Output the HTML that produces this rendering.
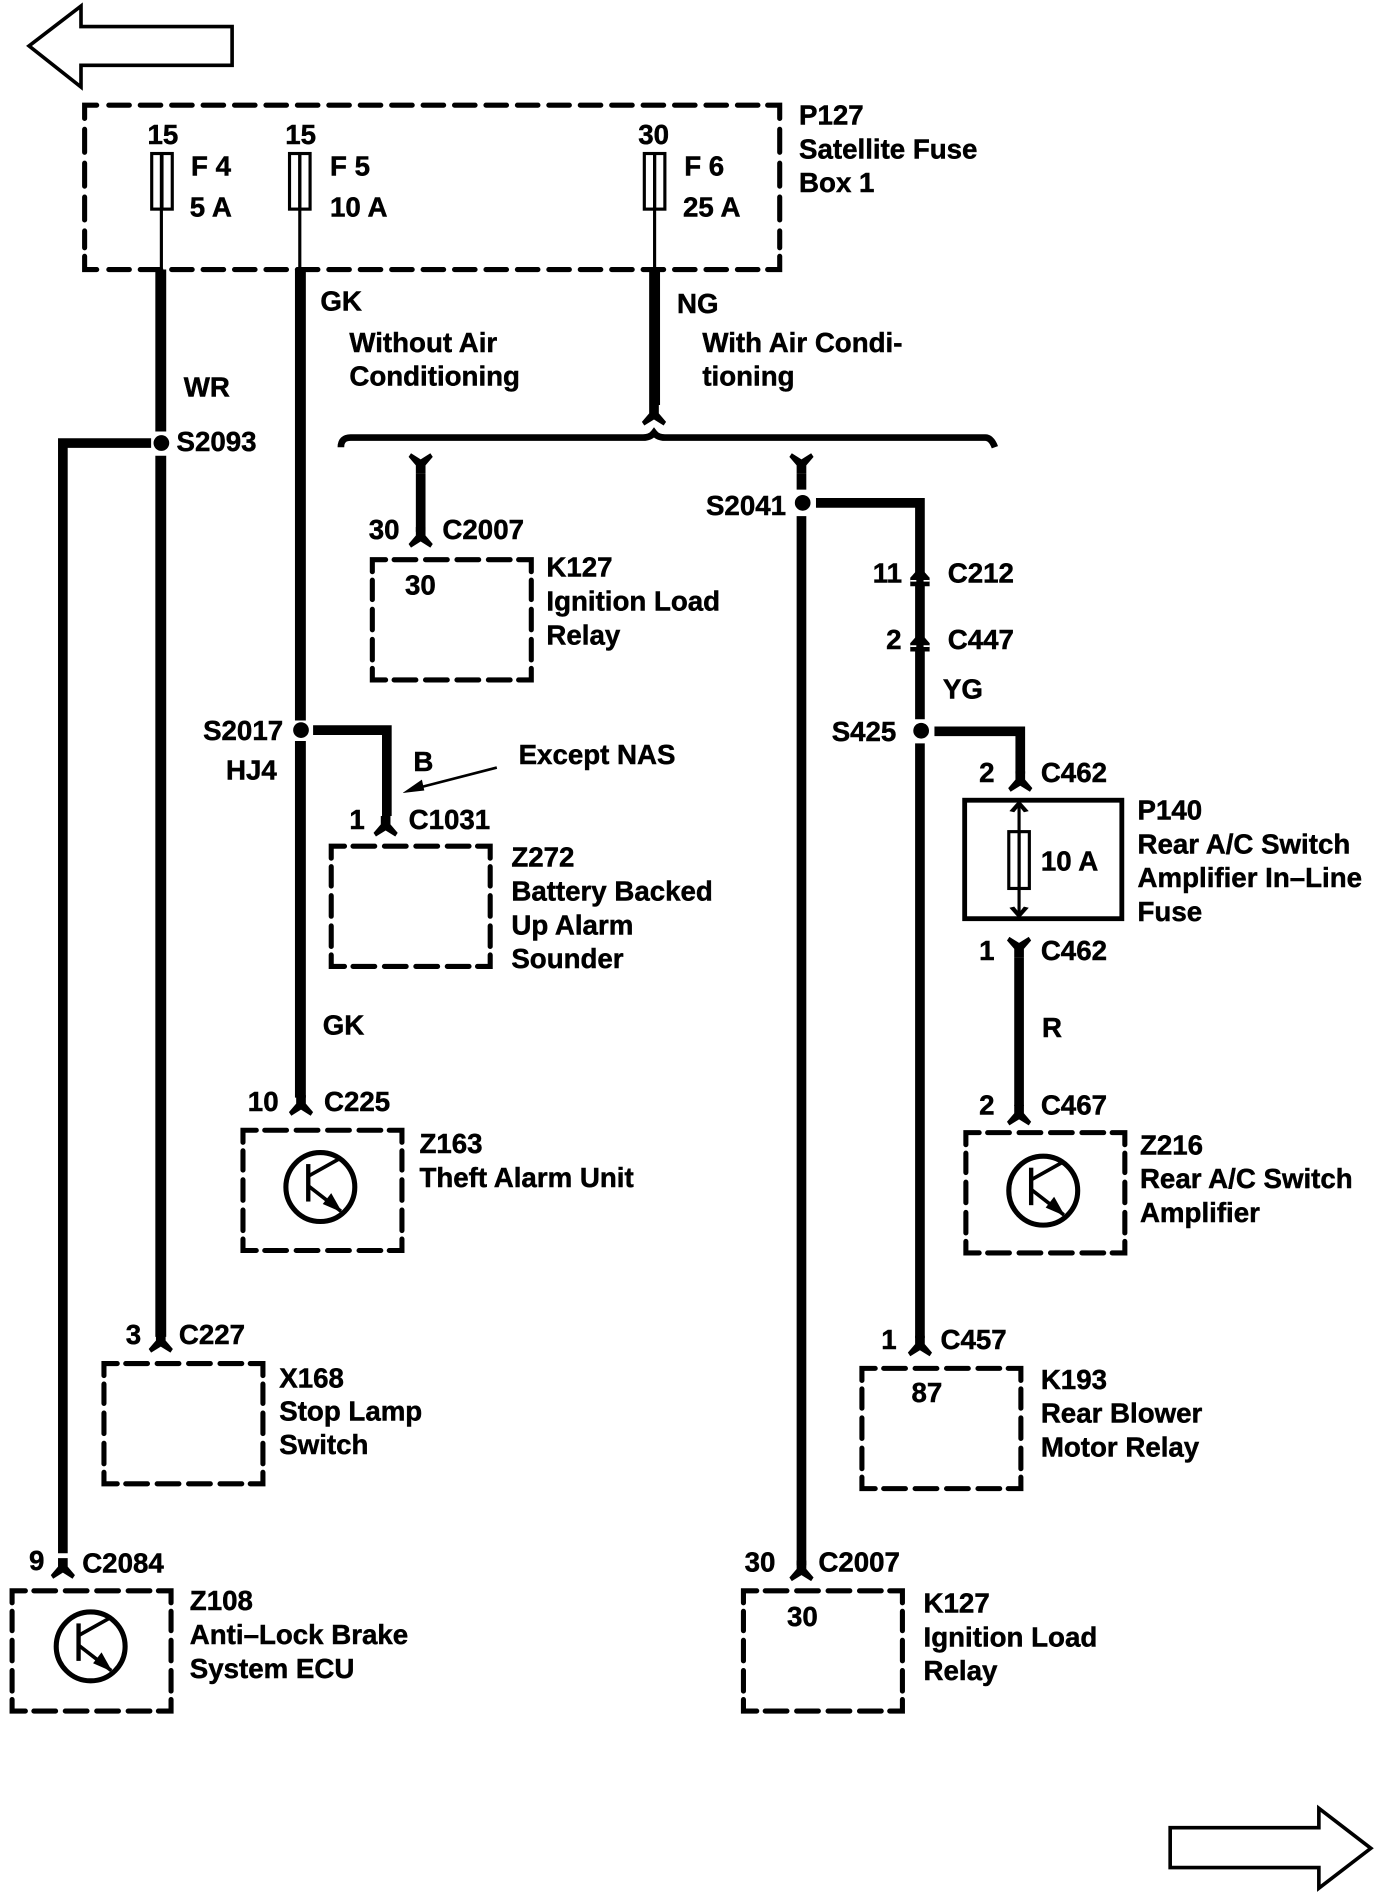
<!DOCTYPE html>
<html><head><meta charset="utf-8"><title>Wiring diagram</title>
<style>
html,body{margin:0;padding:0;background:#fff}
svg{display:block}
text{font-family:"Liberation Sans",sans-serif;font-weight:bold;font-size:22.9px;fill:#000;stroke:#000;stroke-width:.4}
.w{fill:none;stroke:#000;stroke-width:8}
.t{fill:none;stroke:#000;stroke-width:2.6}
.d{fill:none;stroke:#000;stroke-width:4.2;stroke-linecap:round;stroke-linejoin:miter}
</style></head><body>
<svg width="1392" height="1896" viewBox="0 0 1151.5 1568.5" preserveAspectRatio="none" xmlns="http://www.w3.org/2000/svg">
<defs>
<g id="box" class="d">
<path class="d" d="M0 10V0H11M121 0H131.500V10M0 90V99.500H11M121 99.500H131.500V90"/>
<path class="d" d="M18 0H36M44 0H62M70 0H88M96 0H114M18 99.500H36M44 99.500H62M70 99.500H88M96 99.500H114M0 17V33M0 41V58M0 66V83M131.500 17V33M131.500 41V58M131.500 66V83"/>
</g>
<g id="tr">
<circle cx="0" cy="0" r="28.5" fill="none" stroke="#000" stroke-width="4.2"/>
<path d="M-10 -19V12" fill="none" stroke="#000" stroke-width="3.6"/>
<path d="M-10 -9L15 -23M-10 -1L17 20" fill="none" stroke="#000" stroke-width="3"/>
<polygon points="18,21 2,14 9,5" fill="#000"/>
</g>
<polygon id="fd" points="-4,-12 4,-12 4,-5 10,2 8,5 0,0 -8,5 -10,2 -4,-5"/>
<polygon id="fu" points="-4,12 4,12 4,5 10,-2 8,-5 0,0 -8,-5 -10,-2 -4,5"/>
</defs>
<rect width="1152" height="1569" fill="#fff"/>

<!-- page arrows -->
<polygon points="24,38 67,5 67,22 192,22 192,54 67,54 67,72" fill="#fff" stroke="#000" stroke-width="3"/>
<polygon points="968,1512 1091,1512 1091,1496 1134,1529 1091,1562 1091,1545 968,1545" fill="#fff" stroke="#000" stroke-width="3"/>

<!-- satellite fuse box -->
<path class="d" d="M70 98V87H80M635 87H645V98M70 212V223H80M635 223H645V212"/>
<path class="d" fill="none" stroke-dasharray="17 9" d="M90 87H630M90 223H630"/>
<path class="d" stroke-dasharray="19 9" d="M70 107V205M645 107V205"/>

<!-- fuses -->
<g fill="#fff" stroke="#000" stroke-width="2.6">
<rect x="125.500" y="127" width="17" height="46"/>
<rect x="239.500" y="127" width="17" height="46"/>
<rect x="533" y="127" width="17" height="46"/>
<rect x="834.500" y="688" width="17" height="47"/>
</g>
<path class="t" d="M133.500 127V223M248 127V223M541.500 127V223M843 662V760"/>
<path class="t" stroke-width="1.6" d="M134 127V173M248 127V173M541.500 127V173M843 688V735"/>
<polygon points="843,662 851,671 847,672 843,667 839,672 835,671"/>
<polygon points="843,760 851,751 847,750 843,755 839,750 835,751"/>

<!-- wires -->
<path class="w" style="stroke-width:9" d="M133 223V357M133 377V1106"/>
<path class="w" d="M125 366.500H52V1285"/>
<path class="w" style="stroke-width:9" d="M248.500 223V596M248.500 613V908"/>
<path class="w" d="M259 604H320V675"/>
<path class="w" style="stroke-width:9" d="M541.500 223V335"/>
<path class="w" d="M348 392V440"/>
<path class="w" d="M663 392V405M663 427V1295"/>
<path class="w" d="M675 416H761V595M761 615V1107"/>
<path class="w" d="M773 605H844V640"/>
<path class="w" d="M843 792V915"/>

<!-- connector forks -->
<use href="#fd" x="133" y="1114"/>
<use href="#fd" x="52" y="1301"/>
<use href="#fd" x="249" y="918"/>
<use href="#fd" x="319" y="687"/>
<use href="#fd" x="348" y="448"/>
<use href="#fd" x="663" y="1303"/>
<use href="#fd" x="761" y="1117"/>
<use href="#fd" x="844" y="650"/>
<use href="#fd" x="843" y="926"/>
<use href="#fu" x="843" y="780"/>
<use href="#fu" x="348" y="380"/>
<use href="#fu" x="663" y="380"/>
<use href="#fd" x="541" y="347"/>
<polygon points="761,469 769,478 769,485 753,485 753,478"/>
<path d="M753 480.500H758M764 480.500H769" stroke="#fff" stroke-width="1.4"/>
<polygon points="761,523 769,532 769,539 753,539 753,532"/>
<path d="M753 534.500H758M764 534.500H769" stroke="#fff" stroke-width="1.4"/>

<!-- brace -->
<path fill="none" stroke="#000" stroke-width="5.500" d="M282 370Q282 362 290 362H532Q538 362 541 358Q544 362 550 362H815Q820 362 823 370"/>

<!-- splices -->
<g>
<circle cx="133.500" cy="366.500" r="6.500"/>
<circle cx="249" cy="604" r="6.500"/>
<circle cx="664" cy="416" r="6.500"/>
<circle cx="762" cy="604.500" r="6.500"/>
</g>

<!-- solid fuse box -->
<rect x="798" y="662" width="130" height="98" fill="none" stroke="#000" stroke-width="4"/>

<!-- dashed component boxes -->
<use href="#box" x="308" y="463"/>
<use href="#box" x="274" y="700"/>
<use href="#box" x="201" y="935"/>
<use href="#box" x="86" y="1128"/>
<use href="#box" x="10" y="1316"/>
<use href="#box" x="799" y="937"/>
<use href="#box" x="713" y="1132"/>
<use href="#box" x="615" y="1316"/>
<use href="#tr" x="265" y="982"/>
<use href="#tr" x="75" y="1362"/>
<use href="#tr" x="863" y="985"/>

<!-- except NAS arrow -->
<path d="M411 635L345 652" fill="none" stroke="#000" stroke-width="2.200"/>
<polygon points="333,656 349,645 351,654"/>

<!-- labels -->
<text x="122" y="119">15</text><text x="236" y="119">15</text><text x="528" y="119">30</text>
<text x="158" y="145">F 4</text><text x="157" y="179">5 A</text>
<text x="273" y="145">F 5</text><text x="273" y="179">10 A</text>
<text x="566" y="145">F 6</text><text x="565" y="179">25 A</text>
<text x="661" y="103">P127</text><text x="661" y="131">Satellite Fuse</text><text x="661" y="159">Box 1</text>
<text x="265" y="257">GK</text>
<text x="289" y="291">Without Air</text><text x="289" y="319">Conditioning</text>
<text x="152" y="328">WR</text><text x="146" y="373">S2093</text>
<text x="560" y="259">NG</text>
<text x="581" y="291">With Air Condi-</text><text x="581" y="319">tioning</text>
<text x="305" y="446">30</text><text x="366" y="446">C2007</text>
<text x="335" y="492">30</text>
<text x="452" y="477">K127</text><text x="452" y="505">Ignition Load</text><text x="452" y="533">Relay</text>
<text x="584" y="426">S2041</text>
<text x="722" y="482">11</text><text x="784" y="482">C212</text>
<text x="733" y="537">2</text><text x="784" y="537">C447</text>
<text x="780" y="578">YG</text>
<text x="688" y="613">S425</text>
<text x="810" y="647">2</text><text x="861" y="647">C462</text>
<text x="941" y="678">P140</text><text x="941" y="706">Rear A/C Switch</text><text x="941" y="734">Amplifier In–Line</text><text x="941" y="762">Fuse</text>
<text x="861" y="720">10 A</text>
<text x="810" y="794">1</text><text x="861" y="794">C462</text>
<text x="862" y="858">R</text>
<text x="810" y="922">2</text><text x="861" y="922">C467</text>
<text x="943" y="955">Z216</text><text x="943" y="983">Rear A/C Switch</text><text x="943" y="1011">Amplifier</text>
<text x="729" y="1116">1</text><text x="778" y="1116">C457</text>
<text x="754" y="1160">87</text>
<text x="861" y="1149">K193</text><text x="861" y="1177">Rear Blower</text><text x="861" y="1205">Motor Relay</text>
<text x="616" y="1300">30</text><text x="677" y="1300">C2007</text>
<text x="651" y="1345">30</text>
<text x="764" y="1334">K127</text><text x="764" y="1362">Ignition Load</text><text x="764" y="1390">Relay</text>
<text x="168" y="612">S2017</text><text x="187" y="645">HJ4</text>
<text x="342" y="638">B</text><text x="429" y="632">Except NAS</text>
<text x="289" y="686">1</text><text x="338" y="686">C1031</text>
<text x="423" y="717">Z272</text><text x="423" y="745">Battery Backed</text><text x="423" y="773">Up Alarm</text><text x="423" y="801">Sounder</text>
<text x="267" y="856">GK</text>
<text x="205" y="919">10</text><text x="268" y="919">C225</text>
<text x="347" y="954">Z163</text><text x="347" y="982">Theft Alarm Unit</text>
<text x="104" y="1112">3</text><text x="148" y="1112">C227</text>
<text x="231" y="1148">X168</text><text x="231" y="1175">Stop Lamp</text><text x="231" y="1203">Switch</text>
<text x="24" y="1299">9</text><text x="68" y="1301">C2084</text>
<text x="157" y="1332">Z108</text><text x="157" y="1360">Anti–Lock Brake</text><text x="157" y="1388">System ECU</text>
</svg>
</body></html>
